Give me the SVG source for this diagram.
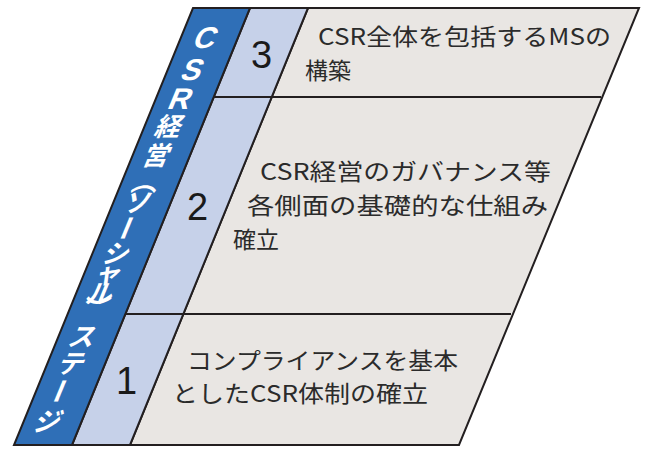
<svg xmlns="http://www.w3.org/2000/svg" width="654" height="455" viewBox="0 0 654 455">
<style>
.o{stroke:#231f20;stroke-width:2;stroke-linejoin:miter}
.t{font-family:"Noto Sans CJK JP",sans-serif;font-size:23px;fill:#2b2b2b}
.n{font-family:"Liberation Sans",sans-serif;font-size:38px;fill:#1a1a1a}
.b{font-family:"Noto Sans CJK JP",sans-serif;font-weight:bold;font-size:26px;fill:#fff;text-anchor:middle;dominant-baseline:central}
.l{font-family:"Liberation Sans",sans-serif;font-size:30px}
</style>
<rect width="654" height="455" fill="#fff"/>
<g id="gray">
<polygon class="o" points="308,8 639,8 459,445 130,445" fill="#e9e6e3"/>
</g>
<g id="band-light">
<polygon class="o" points="250,8 308,8 130,445 72,445" fill="#c6d1e9"/>
</g>
<g id="band-blue">
<polygon class="o" points="193,8 250,8 72,445 14,445" fill="#2f6fb7"/>
<g transform="translate(221.5,0) skewX(-22.3)">
<text class="b l" x="0" y="38">C</text>
<text class="b l" x="0" y="70">S</text>
<text class="b l" x="0" y="99">R</text>
<text class="b" x="0" y="125">経</text>
<text class="b" x="0" y="154">営</text>
<text class="b" x="0" y="180">︵</text>
<text class="b" x="0" y="201">ソ</text>
<text class="b" x="0" y="228" transform="rotate(90 0 228)">ー</text>
<text class="b" x="0" y="252">シ</text>
<text class="b" x="0" y="272">ャ</text>
<text class="b" x="0" y="292">ル</text>
<text class="b" x="0" y="307">︶</text>
<text class="b" x="0" y="335">ス</text>
<text class="b" x="0" y="362">テ</text>
<text class="b" x="0" y="391" transform="rotate(90 0 391)">ー</text>
<text class="b" x="0" y="420">ジ</text>
</g>
</g>
<g id="connectors">
<line class="o" x1="214" y1="97" x2="601" y2="97"/>
<line class="o" x1="125" y1="314" x2="511" y2="314"/>
</g>
<g id="stage3">
<text class="n" x="251" y="68">3</text>
<text class="t" x="318" y="45" textLength="293" lengthAdjust="spacingAndGlyphs">CSR全体を包括するMSの</text>
<text class="t" x="305" y="79">構築</text>
</g>
<g id="stage2">
<text class="n" x="187" y="220">2</text>
<text class="t" x="260" y="180" textLength="291" lengthAdjust="spacingAndGlyphs">CSR経営のガバナンス等</text>
<text class="t" x="247" y="214" textLength="301" lengthAdjust="spacingAndGlyphs">各側面の基礎的な仕組み</text>
<text class="t" x="233" y="248">確立</text>
</g>
<g id="stage1">
<text class="n" x="116" y="394">1</text>
<text class="t" x="187" y="369" textLength="271" lengthAdjust="spacingAndGlyphs">コンプライアンスを基本</text>
<text class="t" x="172" y="402" textLength="256" lengthAdjust="spacingAndGlyphs">としたCSR体制の確立</text>
</g>
</svg>
